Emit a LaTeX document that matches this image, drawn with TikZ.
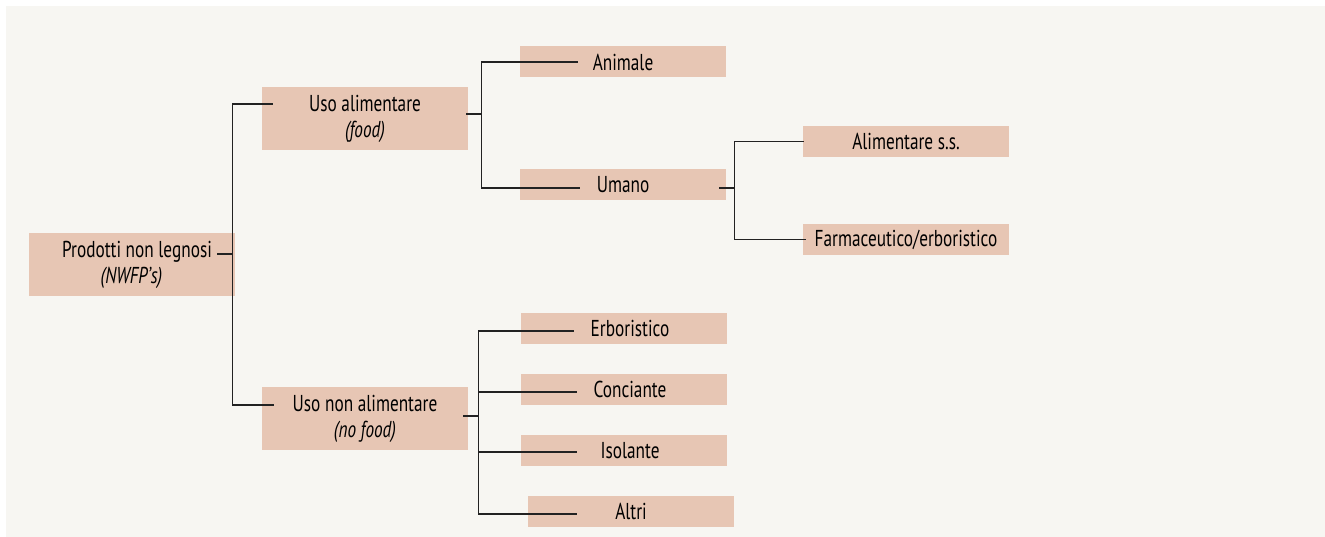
\documentclass[tikz,border=0pt]{standalone}
\usepackage{fontspec}
\setmainfont[FakeStretch=0.75]{PT Sans}
\usetikzlibrary{calc}
\definecolor{bgc}{HTML}{F7F6F2}
\definecolor{boxc}{HTML}{E7C6B4}
\definecolor{linec}{HTML}{222222}
\tikzset{
  leaf/.style={fill=boxc, inner sep=0pt, minimum width=206pt, minimum height=31pt, align=center},
  mid/.style={fill=boxc, inner sep=0pt, minimum width=206pt, minimum height=63pt, align=center},
  conn/.style={draw=linec, line width=1.2pt},
  every node/.style={font=\fontsize{23}{26}\selectfont, text=black}
}
\begin{document}
\begin{tikzpicture}[x=1pt,y=-1pt]
\useasboundingbox (0,0) rectangle (1325,537);
\fill[bgc] (6,6) rectangle (1325,537);
% boxes
\node[mid] (prod) at (131.5,264.5) {\hspace*{11pt}Prodotti non legnosi\\\textit{(NWFP’s)}};
\node[mid] (uso1) at (365,118.5) {Uso alimentare\\\textit{(food)}};
\node[mid] (uso2) at (365,418.5) {Uso non alimentare\\\textit{(no food)}};
\node[leaf] (anim) at (623,62) {Animale};
\node[leaf] (uman) at (623,185) {Umano};
\node[leaf] (alss) at (906,141.5) {Alimentare s.s.};
\node[leaf] (farm) at (906,239.5) {Farmaceutico/erboristico};
\node[leaf] (ero) at (624,328.5) {\hspace*{12pt}Erboristico};
\node[leaf] (conc) at (624,389.5) {\hspace*{12pt}Conciante};
\node[leaf] (isol) at (624,450.5) {\hspace*{12pt}Isolante};
\node[leaf] (altr) at (631,511.5) {Altri};
% connectors
\draw[conn] ([xshift=-17.5pt,yshift=10.5pt]prod.east) -- ++(15,0) coordinate (pv);
\draw[conn] (pv) |- ([xshift=11pt,yshift=14.5pt]uso1.west);
\draw[conn] (pv) |- ([xshift=12pt,yshift=13.5pt]uso2.west);
\draw[conn] ([xshift=-2pt,yshift=4.5pt]uso1.east) -- ++(15,0) coordinate (av);
\draw[conn] (av) |- ([xshift=58pt]anim.west);
\draw[conn] (av) |- ([xshift=60pt,yshift=-3pt]uman.west);
\draw[conn] ([xshift=-7pt,yshift=-3pt]uman.east) -- ++(15,0) coordinate (hv);
\draw[conn] (hv) |- ([xshift=1pt]alss.west);
\draw[conn] (hv) |- ([xshift=3pt]farm.west);
\draw[conn] ([xshift=-5pt,yshift=2.5pt]uso2.east) -- ++(15,0) coordinate (nv);
\draw[conn] (nv) |- ([xshift=53pt,yshift=-2.5pt]ero.west);
\draw[conn] (nv) |- ([xshift=56pt,yshift=-2.5pt]conc.west);
\draw[conn] (nv) |- ([xshift=56pt,yshift=-1.5pt]isol.west);
\draw[conn] (nv) |- ([xshift=49pt,yshift=-2.5pt]altr.west);
\end{tikzpicture}
\end{document}
